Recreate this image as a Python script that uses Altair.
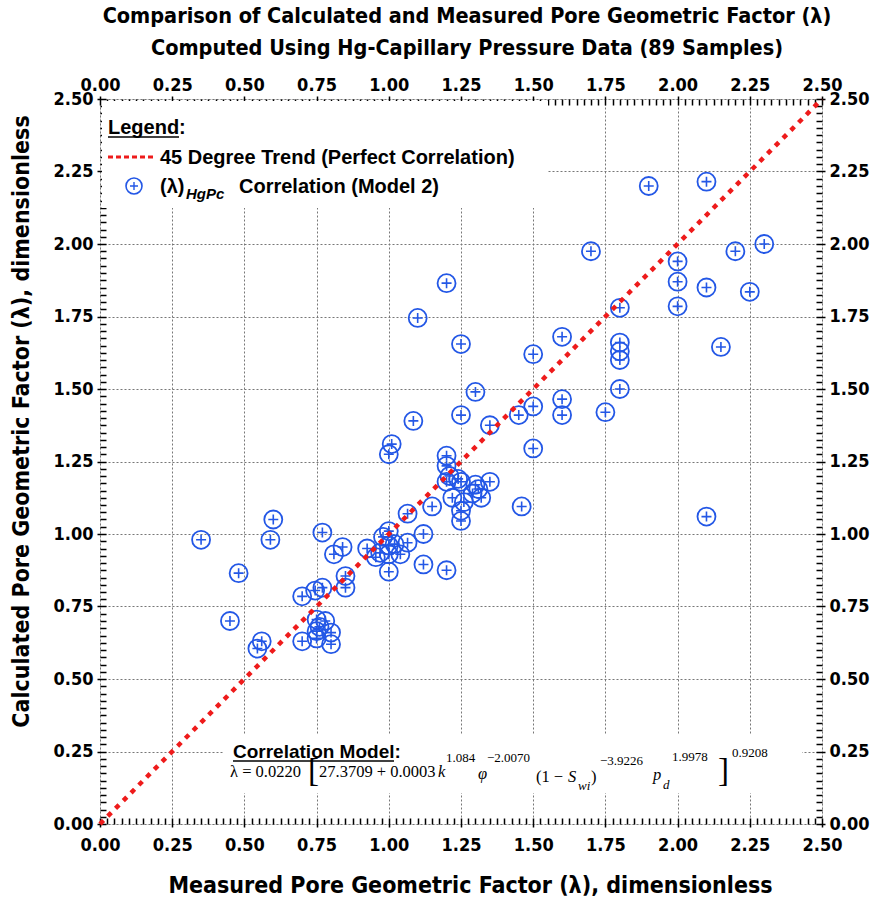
import altair as alt
import pandas as pd

# Measured vs calculated pore geometric factor (89 samples)
measured = [
    0.35, 0.48, 0.45, 0.56, 0.545, 0.60, 0.59, 0.70, 0.70, 0.75,
    0.75, 0.75, 0.78, 0.80, 0.80, 0.745, 0.77, 0.85, 0.85, 0.77,
    0.81, 0.84, 0.925, 0.955, 1.00, 1.00, 1.00, 1.065, 1.12, 1.065,
    1.12, 1.20, 1.00, 1.04, 0.97, 1.02, 1.15, 1.25, 1.25, 1.22,
    1.32, 1.29, 1.20, 1.25, 1.30, 1.35, 1.20, 1.20, 1.00, 1.01,
    1.085, 1.25, 1.35, 1.45, 1.50, 1.50, 1.46, 1.30, 1.25, 1.50,
    1.10, 1.20, 1.60, 1.60, 1.60, 1.75, 1.80, 1.80, 1.80, 1.80,
    1.80, 1.70, 1.90, 2.10, 2.00, 2.00, 2.00, 2.10, 2.20, 2.30,
    2.25, 2.15, 2.10, 0.76, 1.21, 1.26, 0.98, 1.31, 1.24,
]
calculated = [
    0.98, 0.865, 0.70, 0.63, 0.605, 1.05, 0.98, 0.785, 0.63, 0.705,
    0.665, 0.64, 0.70, 0.66, 0.62, 0.805, 0.815, 0.855, 0.815, 1.005,
    0.93, 0.955, 0.95, 0.92, 1.01, 0.96, 0.87, 0.97, 1.00, 1.07,
    0.895, 0.875, 0.93, 0.93, 0.935, 0.965, 1.095, 1.045, 1.08, 1.125,
    1.125, 1.14, 1.18, 1.18, 1.17, 1.18, 1.235, 1.27, 1.275, 1.31,
    1.39, 1.41, 1.375, 1.41, 1.44, 1.295, 1.095, 1.49, 1.655, 1.62,
    1.745, 1.865, 1.68, 1.465, 1.41, 1.42, 1.50, 1.60, 1.63, 1.66,
    1.78, 1.975, 2.20, 2.215, 1.94, 1.87, 1.785, 1.85, 1.975, 2.00,
    1.835, 1.645, 1.06, 0.68, 1.20, 1.11, 0.99, 1.155, 1.19,
]

# 45-degree reference line end points
trend_x = [0.0, 2.5]
trend_y = [0.0, 2.5]

# Axis tick positions: labelled major ticks every 0.25, minor ticks every 0.025
tick_values = [round(i * 0.025, 3) for i in range(101)]

BLUE = "#2357e6"
RED = "#ee1b1b"
AXIS_FONT = "DejaVu Sans Condensed, DejaVu Sans, sans-serif"
SANS = "Liberation Sans, Arial, sans-serif"
SERIF = "Liberation Serif, Times New Roman, serif"
PLUS = "M-1,0L1,0M0,-1L0,1"

IS_MAJOR = "abs(datum.value * 4 - round(datum.value * 4)) < 0.001"


def make_axis(orient, title=None, grid=False, label_pad=2, title_pad=20, **extra):
    kw = dict(
        orient=orient,
        values=tick_values,
        labelExpr=f"{IS_MAJOR} ? format(datum.value, '.2f') : ''",
        labelOverlap=False,
        labelBound=False,
        labelFlush=False,
        labelFont=AXIS_FONT,
        labelFontSize=18,
        labelFontWeight="bold",
        labelColor="black",
        labelPadding=label_pad,
        tickColor="black",
        tickWidth=1.5,
        tickSize={"condition": {"test": IS_MAJOR, "value": 9}, "value": 6},
        offset=-6,
        domain=False,
        grid=grid,
    )
    if grid:
        kw.update(
            gridColor="#777777",
            gridDash=[2, 2],
            gridWidth=1,
            gridOpacity={"condition": {"test": IS_MAJOR, "value": 1}, "value": 0},
        )
    if title:
        kw.update(
            title=title,
            titleFont=AXIS_FONT,
            titleFontSize=23,
            titleFontWeight="bold",
            titleColor="black",
            titlePadding=title_pad,
        )
    else:
        kw["title"] = None
    kw.update(extra)
    return alt.Axis(**kw)


xs = alt.Scale(domain=[0, 2.5], nice=False, zero=False)
ys = alt.Scale(domain=[0, 2.5], nice=False, zero=False)

points = pd.DataFrame({"measured": measured, "calculated": calculated})
trend = pd.DataFrame({"x": trend_x, "y": trend_y})

circles = alt.Chart(points).mark_point(
    shape="circle", filled=False, size=324, strokeWidth=1.8, color=BLUE, opacity=1
).encode(
    x=alt.X("measured:Q", scale=xs,
            axis=make_axis("bottom", "Measured Pore Geometric Factor (λ), dimensionless",
                           grid=True, label_pad=9, title_pad=20, titleX=370)),
    y=alt.Y("calculated:Q", scale=ys,
            axis=make_axis("left", "Calculated Pore Geometric Factor (λ), dimensionless",
                           grid=True, label_pad=4, title_pad=20, titleY=322)),
)

pluses = alt.Chart(points).mark_point(
    shape=PLUS, filled=False, size=100, strokeWidth=1.6, color=BLUE, opacity=1
).encode(
    x=alt.X("measured:Q", scale=xs, axis=None),
    y=alt.Y("calculated:Q", scale=ys, axis=None),
)

trend_line = alt.Chart(trend).mark_line(
    color=RED, strokeWidth=4.5, strokeDash=[5, 6]
).encode(
    x=alt.X("x:Q", scale=xs, axis=make_axis("top")),
    y=alt.Y("y:Q", scale=ys, axis=make_axis("right", label_pad=4)),
)

one_row = alt.Data(values=[{}])


def box(x1, x2, y1, y2):
    return alt.Chart(one_row).mark_rect(color="white", opacity=1).encode(
        x=alt.value(x1), x2=alt.value(x2), y=alt.value(y1), y2=alt.value(y2)
    )


def text(s, x, y, size, font=SANS, weight="normal", style="normal", color="black"):
    return alt.Chart(one_row).mark_text(
        text=s, align="left", baseline="alphabetic", fontSize=size, font=font,
        fontWeight=weight, fontStyle=style, color=color,
    ).encode(x=alt.value(x), y=alt.value(y))


def underline(x1, x2, y):
    return alt.Chart(one_row).mark_rule(color="black", strokeWidth=1.5).encode(
        x=alt.value(x1), x2=alt.value(x2), y=alt.value(y)
    )


# Legend panel (upper left)
legend_layers = [
    box(2, 448, 2, 109),
    text("Legend:", 8, 35, 20, weight="bold"),
    underline(8, 79, 38),
    alt.Chart(one_row).mark_rule(color=RED, strokeWidth=3, strokeDash=[5, 3]).encode(
        x=alt.value(8), x2=alt.value(53), y=alt.value(58)
    ),
    text("45 Degree Trend (Perfect Correlation)", 60, 65, 20, weight="bold"),
    alt.Chart(one_row).mark_point(
        shape="circle", filled=False, size=256, strokeWidth=1.6, color=BLUE, opacity=1
    ).encode(x=alt.value(34), y=alt.value(87)),
    alt.Chart(one_row).mark_point(
        shape=PLUS, filled=False, size=64, strokeWidth=1.4, color=BLUE, opacity=1
    ).encode(x=alt.value(34), y=alt.value(87)),
    text("(λ)", 60, 94, 20, weight="bold"),
    text("HgPc", 86, 100, 15, weight="bold", style="italic"),
    text("Correlation (Model 2)", 139, 94, 20, weight="bold"),
]

# Correlation model panel (lower middle)
M = 16.5   # main equation text size
S = 13     # exponent / subscript size
EQ_Y = 678
equation_layers = [
    box(124, 702, 635, 694),
    text("Correlation Model:", 133, 659, 19, weight="bold"),
    underline(133, 294, 662),
    text("λ = 0.0220", 130, EQ_Y, M, font=SERIF),
    text("[", 208, 682, 33, font=SERIF),
    text("27.3709 + 0.0003", 219, EQ_Y, M, font=SERIF),
    text("k", 338, EQ_Y, M, font=SERIF, style="italic"),
    text("1.084", 346, 663, S, font=SERIF),
    text("φ", 378, EQ_Y + 2, M, font=SERIF, style="italic"),
    text("−2.0070", 387, 663, S, font=SERIF),
    text("(1 −", 436, 683, M, font=SERIF),
    text("S", 468, 683, M, font=SERIF, style="italic"),
    text("wi", 478, 691, S, font=SERIF, style="italic"),
    text(")", 491, 683, M, font=SERIF),
    text("−3.9226", 500, 666, S, font=SERIF),
    text("p", 553, 681, M, font=SERIF, style="italic"),
    text("d", 563, 690, S, font=SERIF, style="italic"),
    text("1.9978", 572, 662, S, font=SERIF),
    text("]", 618, 682, 33, font=SERIF),
    text("0.9208", 632, 658, S, font=SERIF),
]

chart = alt.layer(
    circles, pluses, trend_line, *legend_layers, *equation_layers
).resolve_axis(
    x="independent", y="independent"
).properties(
    width=722,
    height=725,
    autosize=alt.AutoSizeParams(type="none"),
    padding={"left": 100, "top": 99, "right": 58, "bottom": 85},
    title=alt.TitleParams(
        ["Comparison of Calculated and Measured Pore Geometric Factor (λ)",
         "Computed Using Hg-Capillary Pressure Data (89 Samples)"],
        font=AXIS_FONT, fontSize=21.5, fontWeight="bold", color="black",
        anchor="middle", lineHeight=32, offset=17, dx=6,
    ),
).configure_view(
    stroke="black", strokeWidth=3
).configure(background="white")

chart.save("out.html", embed_options={"renderer": "svg", "actions": False})
